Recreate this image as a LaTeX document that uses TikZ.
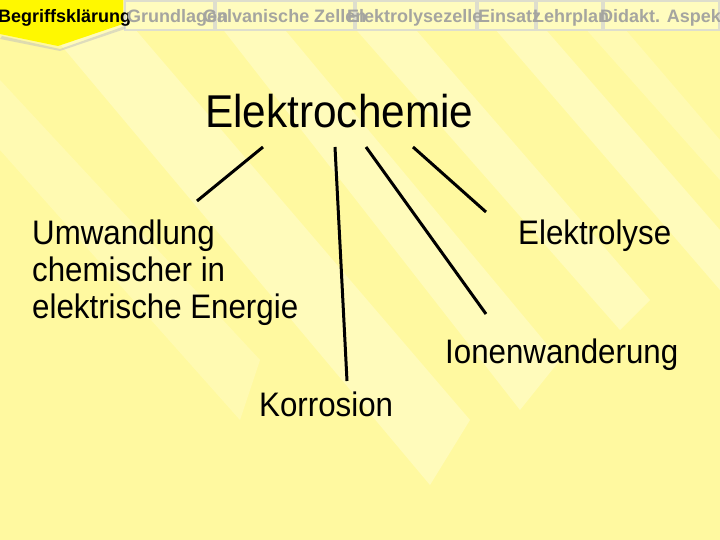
\documentclass[tikz,border=0pt]{standalone}
\usepackage{fontspec}
\setmainfont{Liberation Sans}
\newfontfamily\tfont[FakeStretch=0.92]{Liberation Sans}
\definecolor{bgyel}{RGB}{255,249,160}
\definecolor{bandyel}{RGB}{255,253,205}
\definecolor{tabfill}{RGB}{255,252,190}
\definecolor{tabline}{RGB}{222,222,205}
\definecolor{tabtext}{RGB}{165,165,160}
\definecolor{acttab}{RGB}{255,248,0}
\tikzset{
  tabbox/.style={fill=tabfill,draw=tabline,line width=1.5pt},
  tabtxt/.style={anchor=base west,inner sep=0,text=tabtext,font=\fontsize{18}{20}\selectfont\bfseries},
  big/.style={anchor=base west,inner sep=0,font=\fontsize{46}{50}\selectfont\tfont},
  lbl/.style={inner sep=0,font=\fontsize{34}{37}\selectfont\tfont},
  conn/.style={line width=3pt},
  band/.style={fill=bandyel,draw=none,opacity=0.6}
}
\begin{document}
\begin{tikzpicture}[x=1pt,y=-1pt]
\useasboundingbox (0,0) rectangle (720,540);
\fill[bgyel] (0,0) rectangle (720,540);
% light rays
\begin{scope}
\clip (0,0) rectangle (720,540);
\fill[band] (40,20) -- (110,0) -- (470,420) -- (430,485) -- cycle;
\fill[band] (200,0) -- (260,0) -- (560,360) -- (520,410) -- cycle;
\fill[band] (330,0) -- (390,0) -- (650,300) -- (620,330) -- cycle;
\fill[band] (470,0) -- (520,0) -- (720,230) -- (720,290) -- cycle;
\fill[band,opacity=0.4] (0,80) -- (0,150) -- (240,420) -- (260,360) -- cycle;
\fill[band,opacity=0.4] (560,0) -- (600,0) -- (720,140) -- (720,180) -- cycle;
\end{scope}
% tab bar
\draw[tabbox] (125,1) rectangle (214,30);
\draw[tabbox] (216,1) rectangle (354,30);
\draw[tabbox] (356,1) rectangle (476,30);
\draw[tabbox] (478,1) rectangle (535,30);
\draw[tabbox] (537,1) rectangle (602,30);
\draw[tabbox] (604,1) rectangle (719,30);
\fill[black!25,opacity=0.5] (2,36) -- (60,49) -- (125,26) -- (125,29) -- (60,51) -- (0,39) -- cycle;
\fill[acttab] (0,0) -- (123,0) -- (123,24) -- (58,46) -- (0,34) -- cycle;
\node[tabtxt,text=black] (t1) at (-2,23) {Begriffsklärung};
\node[tabtxt] (t2) at (127,23) {Grundlagen};
\node[tabtxt] (t3) at (203,23) {Galvanische Zellen};
\node[tabtxt] (t4) at (347,23) {Elektrolysezelle};
\node[tabtxt] (t5) at (478,23) {Einsatz};
\node[tabtxt] (t6) at (533,23) {Lehrplan};
\node[tabtxt] (t7) at (600,23) {Didakt. Aspekte};
% main content
\node[big] (root) at (205,128) {Elektrochemie};
\node[lbl,anchor=north west,align=left] (umw) at (32,220) {Umwandlung\\chemischer in\\elektrische Energie};
\node[lbl,anchor=base west] (elyse) at (518,244) {Elektrolyse};
\node[lbl,anchor=base west] (ionen) at (445,363) {Ionenwanderung};
\node[lbl,anchor=base west] (korr) at (259,416) {Korrosion};
\coordinate (a1) at (263,147); \coordinate (b1) at (197,201);
\coordinate (a2) at (335,147); \coordinate (b2) at (347,381);
\coordinate (a3) at (366,147); \coordinate (b3) at (486,314);
\coordinate (a4) at (413,147); \coordinate (b4) at (486,212);
\draw[conn] (a1) -- (b1);
\draw[conn] (a2) -- (b2);
\draw[conn] (a3) -- (b3);
\draw[conn] (a4) -- (b4);
\end{tikzpicture}
\end{document}
